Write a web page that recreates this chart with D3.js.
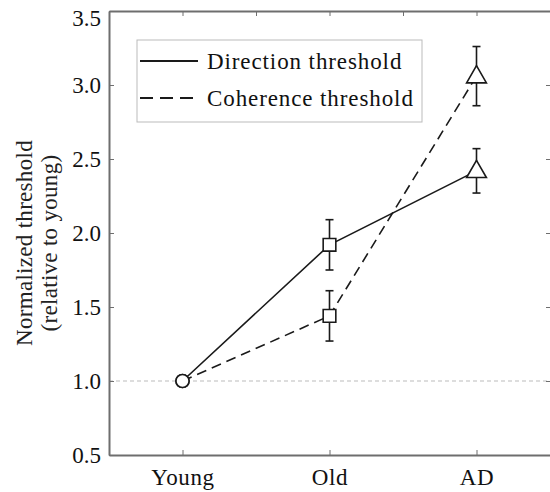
<!DOCTYPE html>
<html>
<head>
<meta charset="utf-8">
<script src="https://cdn.jsdelivr.net/npm/d3@7"></script>
<style>
  body { margin: 0; background: #fff; }
</style>
</head>
<body>
<div id="chart"></div>
<script>
// data
var groups = ["Young", "Old", "AD"];
var directionMean = [1.0, 1.92, 2.42];
var directionErr = [0, 0.17, 0.15];
var coherenceMean = [1.0, 1.44, 3.06];
var coherenceErr = [0, 0.17, 0.20];
var markerShapes = ["circle", "square", "triangle"];
var yTicks = [0.5, 1.0, 1.5, 2.0, 2.5, 3.0, 3.5];
var topTicks = [1, 1.5, 2, 2.5, 3];

var serif = "Liberation Serif, Times New Roman, serif";
var W = 550, H = 492;
var margin = {top: 11, right: 0, bottom: 37, left: 109};
var width = W - margin.left - margin.right,
    height = H - margin.top - margin.bottom;

var svg = d3.select("#chart").append("svg")
    .attr("width", W)
    .attr("height", H)
  .append("g")
    .attr("transform", "translate(" + margin.left + "," + margin.top + ")");

// x is a numeric scale on group index (1..3), axis box spans 0.5..3.5
var x = d3.scaleLinear().domain([0.5, 3.5]).range([0, width]);
var y = d3.scaleLinear().domain([0.5, 3.5]).range([height, 0]);

var axisColor = "#6e6e6e";

// reference line at 1.0
svg.append("line")
  .attr("x1", 0).attr("x2", width)
  .attr("y1", y(1)).attr("y2", y(1))
  .attr("stroke", "#bbb")
  .attr("stroke-width", 1)
  .attr("stroke-dasharray", "4,3");

// bottom axis
var xAxis = svg.append("g")
  .attr("transform", "translate(0," + height + ")")
  .call(d3.axisBottom(x).tickValues([1, 2, 3])
    .tickFormat(function(d) { return groups[d - 1]; })
    .tickSize(-5).tickPadding(14).tickSizeOuter(0));
xAxis.select(".domain").attr("stroke", axisColor).attr("stroke-width", 2);
xAxis.selectAll(".tick line").attr("stroke", axisColor);
xAxis.selectAll("text").attr("font-size", 23).attr("fill", "#111")
  .attr("font-family", serif).attr("letter-spacing", 0.6);

// top axis (ticks only)
var tAxis = svg.append("g")
  .call(d3.axisTop(x).tickValues(topTicks).tickFormat("")
    .tickSize(-5).tickSizeOuter(0));
tAxis.select(".domain").attr("stroke", axisColor).attr("stroke-width", 2);
tAxis.selectAll(".tick line").attr("stroke", axisColor);

// left axis
var yAxis = svg.append("g")
  .call(d3.axisLeft(y).tickValues(yTicks).tickFormat(d3.format(".1f"))
    .tickSize(-5).tickPadding(8).tickSizeOuter(0));
yAxis.select(".domain").attr("stroke", axisColor).attr("stroke-width", 2);
yAxis.selectAll(".tick line").attr("stroke", axisColor);
yAxis.selectAll("text").attr("font-size", 23).attr("fill", "#111")
  .attr("font-family", serif)
  .attr("dy", function(d) { return d === 3.5 ? "0.65em" : "0.32em"; });

// right side ticks only (the box edge is cut off)
var rAxis = svg.append("g")
  .attr("transform", "translate(" + width + ",0)")
  .call(d3.axisRight(y).tickValues(yTicks.slice(1, 6)).tickFormat("")
    .tickSize(-4).tickSizeOuter(0));
rAxis.select(".domain").remove();
rAxis.selectAll(".tick line").attr("stroke", axisColor);

// y label
var ylab = svg.append("text")
  .attr("transform", "translate(" + (-77) + "," + (y(2) + 10) + ") rotate(-90)")
  .attr("text-anchor", "middle")
  .attr("font-family", serif)
  .attr("font-size", 23)
  .attr("letter-spacing", 0.3)
  .attr("fill", "#222");
ylab.append("tspan").attr("x", 0).attr("dy", 0).text("Normalized threshold");
ylab.append("tspan").attr("x", 0).attr("dy", 25).text("(relative to young)");

var series = [
  {mean: directionMean, err: directionErr, dash: null},
  {mean: coherenceMean, err: coherenceErr, dash: "10,6"}
];

var line = d3.line()
  .x(function(d, i) { return x(i + 1); })
  .y(function(d) { return y(d); });

series.forEach(function(s) {
  svg.append("path")
    .datum(s.mean)
    .attr("fill", "none")
    .attr("stroke", "#1a1a1a")
    .attr("stroke-width", 1.6)
    .attr("stroke-dasharray", s.dash)
    .attr("d", line);

  // error bars
  s.mean.forEach(function(m, i) {
    if (!s.err[i]) return;
    var cx = x(i + 1);
    var g = svg.append("g").attr("stroke", "#1a1a1a").attr("stroke-width", 1.6);
    g.append("line").attr("x1", cx).attr("x2", cx)
      .attr("y1", y(m - s.err[i])).attr("y2", y(m + s.err[i]));
    [m - s.err[i], m + s.err[i]].forEach(function(v) {
      g.append("line").attr("x1", cx - 4).attr("x2", cx + 4)
        .attr("y1", y(v)).attr("y2", y(v));
    });
  });
});

// markers
var symbolTypes = {circle: d3.symbolCircle, square: d3.symbolSquare, triangle: d3.symbolTriangle};
var symbolSizes = {circle: 135, square: 160, triangle: 170};
series.forEach(function(s) {
  svg.selectAll(null)
    .data(s.mean)
    .enter()
    .append("path")
      .attr("transform", function(d, i) {
        var dy = markerShapes[i] === "triangle" ? 1 : 0;
        return "translate(" + x(i + 1) + "," + (y(d) + dy) + ")";
      })
      .attr("d", function(d, i) {
        var k = markerShapes[i];
        return d3.symbol().type(symbolTypes[k]).size(symbolSizes[k])();
      })
      .attr("fill", "white")
      .attr("stroke", "#1a1a1a")
      .attr("stroke-width", 1.6);
});

// legend
var leg = svg.append("g").attr("transform", "translate(" + (137 - margin.left) + "," + (40 - margin.top) + ")");
leg.append("rect")
  .attr("width", 285).attr("height", 82)
  .attr("fill", "white")
  .attr("stroke", "#bbb")
  .attr("stroke-width", 1);
var legItems = [
  {label: "Direction threshold", dash: null, yy: 21},
  {label: "Coherence threshold", dash: "13,7", yy: 58}
];
legItems.forEach(function(it) {
  leg.append("line")
    .attr("x1", 3).attr("x2", 61)
    .attr("y1", it.yy).attr("y2", it.yy)
    .attr("stroke", "#1a1a1a")
    .attr("stroke-width", 2)
    .attr("stroke-dasharray", it.dash);
  leg.append("text")
    .attr("x", 70).attr("y", it.yy + 8)
    .attr("font-family", serif)
    .attr("font-size", 23)
    .attr("letter-spacing", 0.9)
    .attr("fill", "#111")
    .text(it.label);
});
</script>
</body>
</html>
